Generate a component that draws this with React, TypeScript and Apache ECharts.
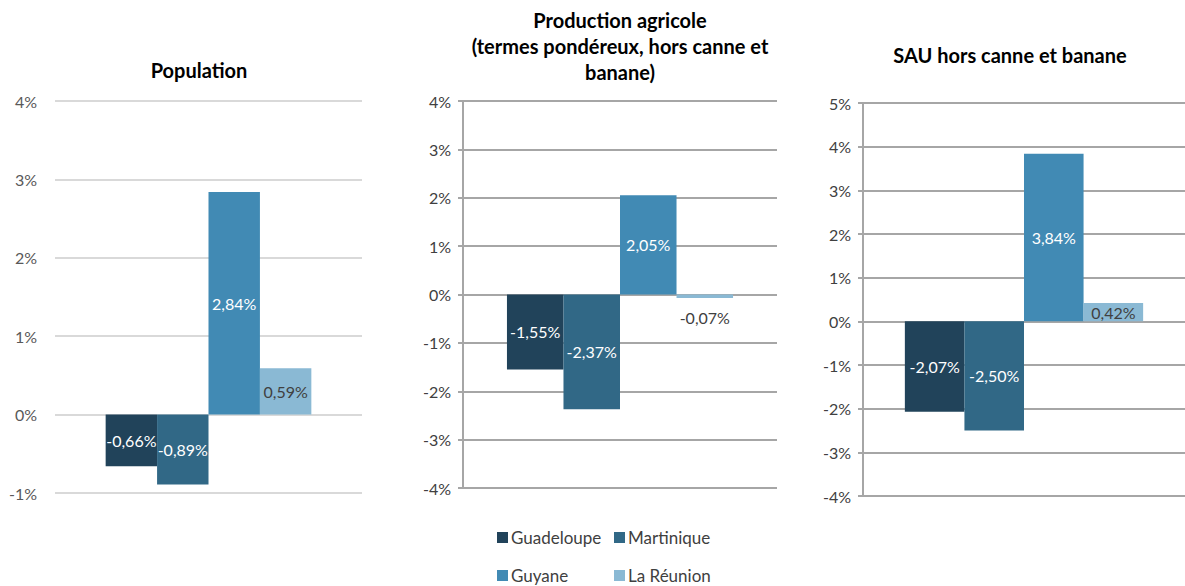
import React, { useEffect, useRef } from "react";
import * as echarts from "echarts";

const regions = ["Guadeloupe", "Martinique", "Guyane", "La Réunion"];
const regionColors = ["#21435a", "#316886", "#418ab4", "#8ab9d4"];
const labelColors = ["#ffffff", "#ffffff", "#ffffff", "#404040"];

const populationValues = [-0.66, -0.89, 2.84, 0.59];
const productionValues = [-1.55, -2.37, 2.05, -0.07];
const sauValues = [-2.07, -2.5, 3.84, 0.42];

const panelValues = [populationValues, productionValues, sauValues];
const panelTitles = [
  ["Population"],
  ["Production agricole", "(termes pondéreux, hors canne et", "banane)"],
  ["SAU hors canne et banane"],
];
const yMins = [-1, -4, -4];
const yMaxs = [4, 4, 5];

const FONT = "Lato, 'Liberation Sans', sans-serif";

const fmt = (v: number) => v.toFixed(2).replace(".", ",") + "%";

export default function App() {
  const ref = useRef<HTMLDivElement>(null);
  useEffect(() => {
    document.body.style.margin = "0";
    const chart = echarts.init(ref.current!, undefined, { renderer: "svg" });

    const grids = [
      { left: 55, right: 823, top: 101, bottom: 93 },
      { left: 463, right: 408, top: 101, bottom: 98 },
      { left: 863, right: -6, top: 103, bottom: 90 },
    ];
    const gaps = ["33%", "28%", "26%"];
    const splitColors = ["#d9d9d9", "#a6a6a6", "#a6a6a6"];
    const axisLabelColors = ["#595959", "#404040", "#404040"];

    const xAxis = grids.map((_, i) => ({
      type: "category",
      gridIndex: i,
      data: [""],
      show: false,
    }));
    const yAxis = grids.map((_, i) => ({
      type: "value",
      gridIndex: i,
      min: yMins[i],
      max: yMaxs[i],
      interval: 1,
      axisLine: { show: i > 0, lineStyle: { color: "#a6a6a6", width: 2 } },
      axisTick: { show: i > 0, length: 5, lineStyle: { color: "#a6a6a6", width: 2 } },
      splitLine: { show: true, lineStyle: { color: splitColors[i], width: 2 } },
      axisLabel: {
        formatter: (v: number) => v + "%",
        color: axisLabelColors[i],
        fontSize: 16,
        fontFamily: FONT,
        margin: i === 0 ? 18 : 12,
      },
    }));

    const series: any[] = [];
    panelValues.forEach((vals, p) => {
      vals.forEach((v, i) => {
        const outside = p === 1 && i === 3;
        series.push({
          type: "bar",
          name: regions[i],
          xAxisIndex: p,
          yAxisIndex: p,
          data: [v],
          barGap: "0%",
          barCategoryGap: gaps[p],
          itemStyle: { color: regionColors[i] },
          label: {
            show: true,
            position: outside ? "outside" : "inside",
            distance: outside ? 12 : 5,
            formatter: (d: any) => fmt(d.value),
            color: outside ? "#404040" : labelColors[i],
            fontSize: 16,
            fontFamily: FONT,
          },
        });
      });
    });

    const legendPos = [
      { left: 497, top: 529 },
      { left: 614, top: 529 },
      { left: 497, top: 567 },
      { left: 614, top: 567 },
    ];
    const legend = regions.map((r, i) => ({
      data: [r],
      left: legendPos[i].left,
      top: legendPos[i].top,
      padding: 0,
      icon: "rect",
      itemWidth: 11,
      itemHeight: 11,
      itemGap: 4,
      textStyle: { fontSize: 17, color: "#404040", fontFamily: FONT, padding: [0, 0, 0, -2] },
    }));

    const titleCenters = [199, 620, 1010];
    const titleTops = [[70], [20, 46, 72], [55]];
    const graphic: any[] = [];
    panelTitles.forEach((lines, p) => {
      lines.forEach((line, j) => {
        graphic.push({
          type: "text",
          x: titleCenters[p],
          y: titleTops[p][j],
          style: {
            text: line,
            font: `bold 20px ${FONT}`,
            fill: "#000000",
            textAlign: "center",
            textVerticalAlign: "middle",
          },
        });
      });
    });

    chart.setOption({
      animation: false,
      grid: grids,
      xAxis,
      yAxis,
      series,
      legend,
      graphic,
    });
    return () => chart.dispose();
  }, []);
  return (
    <div
      ref={ref}
      style={{ position: "fixed", left: 0, top: 0, width: 1185, height: 586, background: "#fff" }}
    />
  );
}
